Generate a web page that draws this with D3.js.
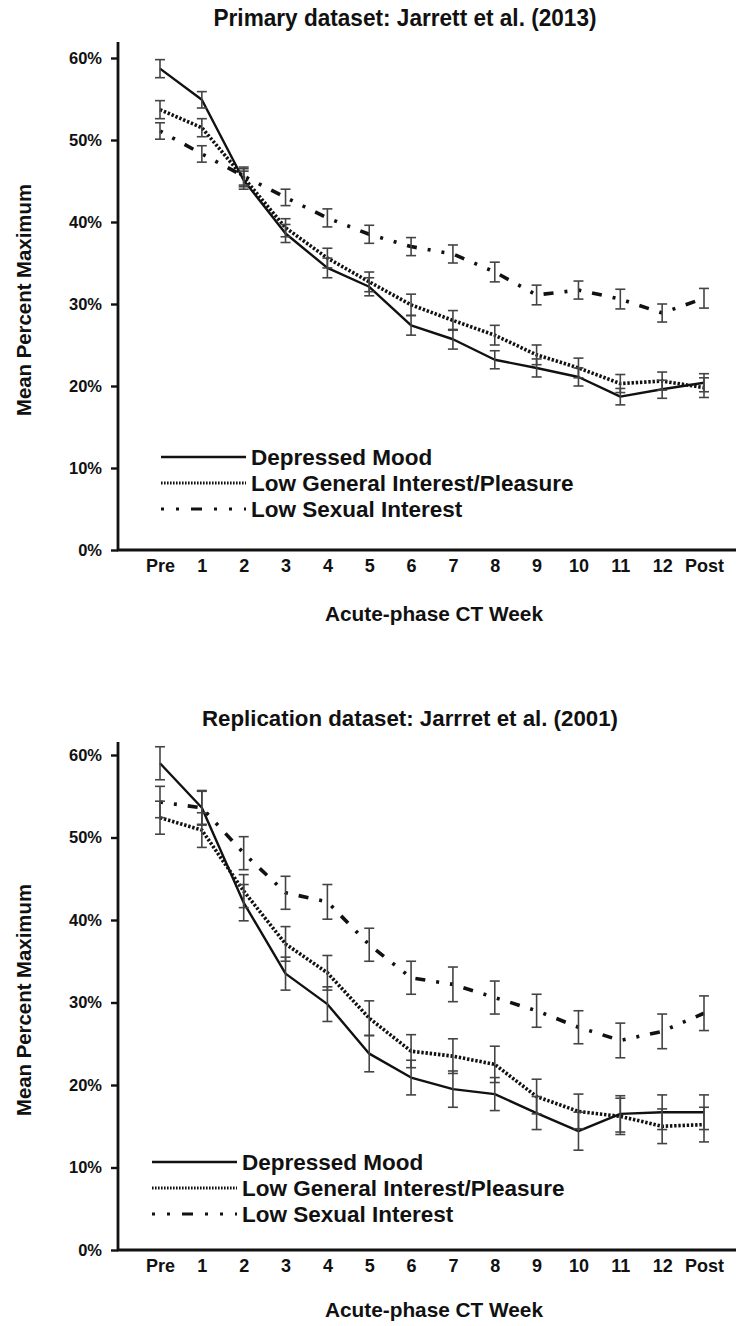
<!DOCTYPE html>
<html>
<head>
<meta charset="utf-8">
<script src="https://cdn.jsdelivr.net/npm/d3@7"></script>
<style>
  html, body { margin: 0; padding: 0; background: #fff; }
  svg { display: block; }
  text { font-family: "Liberation Sans", Arial, sans-serif; font-weight: bold; fill: #111; }
</style>
</head>
<body>
<svg id="chart" width="736" height="1326"></svg>
<script>
// ---------- DATA ----------
const weeks = ["Pre","1","2","3","4","5","6","7","8","9","10","11","12","Post"];
const yTicks = [0, 10, 20, 30, 40, 50, 60];
const seriesNames = ["Depressed Mood", "Low General Interest/Pleasure", "Low Sexual Interest"];

// Primary dataset: Jarrett et al. (2013)
const primaryDepressed    = [58.7, 54.9, 45.1, 38.6, 34.4, 32.1, 27.4, 25.7, 23.2, 22.2, 21.1, 18.7, 19.6, 20.4];
const primaryDepressedErr = [1.1, 1.0, 1.1, 1.1, 1.2, 1.1, 1.2, 1.2, 1.1, 1.1, 1.1, 1.0, 1.1, 1.1];
const primaryGeneral      = [53.7, 51.5, 45.4, 39.3, 35.6, 32.7, 29.9, 28.0, 26.2, 23.8, 22.2, 20.3, 20.6, 19.8];
const primaryGeneralErr   = [1.1, 1.1, 1.1, 1.1, 1.2, 1.2, 1.3, 1.2, 1.2, 1.2, 1.2, 1.1, 1.1, 1.2];
const primarySexual       = [51.1, 48.3, 45.6, 43.0, 40.5, 38.5, 37.0, 36.1, 33.9, 31.1, 31.7, 30.6, 28.9, 30.7];
const primarySexualErr    = [1.0, 1.0, 1.1, 1.0, 1.1, 1.1, 1.1, 1.1, 1.2, 1.2, 1.1, 1.2, 1.1, 1.2];

// Replication dataset: Jarrret et al. (2001)
const replDepressed    = [59.0, 53.6, 42.1, 33.5, 29.8, 23.8, 20.9, 19.5, 18.9, 16.6, 14.4, 16.5, 16.7, 16.7];
const replDepressedErr = [2.0, 2.1, 2.2, 2.0, 2.1, 2.2, 2.1, 2.2, 2.0, 2.0, 2.3, 2.2, 2.1, 2.1];
const replGeneral      = [52.4, 50.9, 43.5, 37.1, 33.6, 28.1, 24.1, 23.5, 22.5, 18.6, 16.8, 16.2, 15.0, 15.2];
const replGeneralErr   = [2.0, 2.1, 2.0, 2.1, 2.1, 2.1, 2.0, 2.1, 2.2, 2.1, 2.1, 2.2, 2.1, 2.1];
const replSexual       = [54.3, 53.6, 48.1, 43.3, 42.2, 37.0, 33.0, 32.2, 30.6, 29.0, 27.0, 25.4, 26.5, 28.7];
const replSexualErr    = [1.9, 2.0, 2.0, 2.0, 2.1, 2.0, 2.0, 2.1, 2.0, 2.0, 2.0, 2.1, 2.1, 2.1];

// ---------- STYLES ----------
const lineStyles = [
  { width: 2.4, dash: null },
  { width: 3.6, dash: "2.4,1.8" },
  { width: 3.6, dash: "3,11,3,11,10,11" }
];
const FONT = "'Liberation Sans', Arial, sans-serif";

const svg = d3.select("#chart");

function drawPanel(cfg) {
  const g = svg.append("g");
  const x = d3.scalePoint().domain(weeks).range([160, 704]);
  const y = d3.scaleLinear().domain([0, 60]).range([cfg.y0, cfg.y60]);

  // title
  g.append("text").attr("x", cfg.titleX).attr("y", cfg.titleY)
    .attr("text-anchor", "middle").style("font-size", cfg.titleSize + "px")
    .attr("textLength", cfg.titleLen).attr("lengthAdjust", "spacingAndGlyphs")
    .text(cfg.title);

  // y axis
  const ya = g.append("g").attr("transform", "translate(118,0)")
    .call(d3.axisLeft(y).tickValues(yTicks).tickFormat(d => d + "%").tickSize(7).tickPadding(9));
  ya.select(".domain").remove();
  ya.selectAll(".tick line").attr("stroke", "#111").attr("stroke-width", 2.4);
  ya.selectAll(".tick text").style("font-size", "16.5px").style("font-family", FONT)
    .style("font-weight", "bold").attr("fill", "#111");
  g.append("line").attr("x1", 118).attr("x2", 118).attr("y1", cfg.axisTop).attr("y2", cfg.y0 + 1)
    .attr("stroke", "#111").attr("stroke-width", 2.8);

  // x axis
  const xa = g.append("g").attr("transform", `translate(0,${cfg.y0})`)
    .call(d3.axisBottom(x).tickSize(0).tickPadding(9));
  xa.select(".domain").remove();
  xa.selectAll(".tick text").style("font-size", "18px").style("font-family", FONT)
    .style("font-weight", "bold").attr("fill", "#111");
  g.append("line").attr("x1", 117).attr("x2", 736).attr("y1", cfg.y0).attr("y2", cfg.y0)
    .attr("stroke", "#111").attr("stroke-width", 2.8);

  // axis titles
  g.append("text").attr("transform", `translate(31,${cfg.yLabelY}) rotate(-90)`)
    .attr("text-anchor", "middle").style("font-size", "20.4px")
    .attr("textLength", 232).attr("lengthAdjust", "spacingAndGlyphs")
    .text("Mean Percent Maximum");
  g.append("text").attr("x", 434).attr("y", cfg.xLabelY)
    .attr("text-anchor", "middle").style("font-size", "20.5px")
    .attr("textLength", 218).attr("lengthAdjust", "spacingAndGlyphs")
    .text("Acute-phase CT Week");

  // lines
  const line = d3.line().x((d, i) => x(weeks[i])).y(d => y(d));
  cfg.series.forEach((s, k) => {
    const p = g.append("path").datum(s.values).attr("d", line)
      .attr("fill", "none").attr("stroke", "#111")
      .attr("stroke-width", lineStyles[k].width).attr("stroke-linejoin", "round");
    if (lineStyles[k].dash) p.attr("stroke-dasharray", lineStyles[k].dash);
  });

  // error bars
  cfg.series.forEach(s => {
    s.values.forEach((v, i) => {
      const cx = x(weeks[i]);
      const lo = y(v - s.err[i]), hi = y(v + s.err[i]);
      const eb = g.append("g").attr("stroke", "#444").attr("stroke-width", 1.6);
      eb.append("line").attr("x1", cx).attr("x2", cx).attr("y1", lo).attr("y2", hi);
      eb.append("line").attr("x1", cx - 5).attr("x2", cx + 5).attr("y1", lo).attr("y2", lo);
      eb.append("line").attr("x1", cx - 5).attr("x2", cx + 5).attr("y1", hi).attr("y2", hi);
    });
  });

  // legend
  seriesNames.forEach((name, k) => {
    const ly = cfg.legendY + k * 26;
    const l = g.append("line").attr("x1", cfg.legendX).attr("x2", cfg.legendX + 85)
      .attr("y1", ly).attr("y2", ly).attr("stroke", "#111")
      .attr("stroke-width", k === 0 ? 2.4 : 3.2);
    if (k === 1) l.attr("stroke-dasharray", "1.6,1.4");
    if (k === 2) l.attr("stroke-dasharray", "3,12,3,12,11,12,3,12,3,12,3");
    g.append("text").attr("x", cfg.legendX + 90).attr("y", ly + 8)
      .style("font-size", "22.5px").text(name);
  });
}

drawPanel({
  title: "Primary dataset: Jarrett et al. (2013)", titleX: 405, titleY: 26, titleLen: 383, titleSize: 23,
  y0: 550, y60: 58, axisTop: 42, yLabelY: 300, xLabelY: 621, legendX: 161, legendY: 457,
  series: [
    { values: primaryDepressed, err: primaryDepressedErr },
    { values: primaryGeneral, err: primaryGeneralErr },
    { values: primarySexual, err: primarySexualErr }
  ]
});

drawPanel({
  title: "Replication dataset: Jarrret et al. (2001)", titleX: 410, titleY: 726, titleLen: 416, titleSize: 22.3,
  y0: 1250, y60: 755, axisTop: 742, yLabelY: 1000, xLabelY: 1317, legendX: 152, legendY: 1162,
  series: [
    { values: replDepressed, err: replDepressedErr },
    { values: replGeneral, err: replGeneralErr },
    { values: replSexual, err: replSexualErr }
  ]
});
</script>
</body>
</html>
